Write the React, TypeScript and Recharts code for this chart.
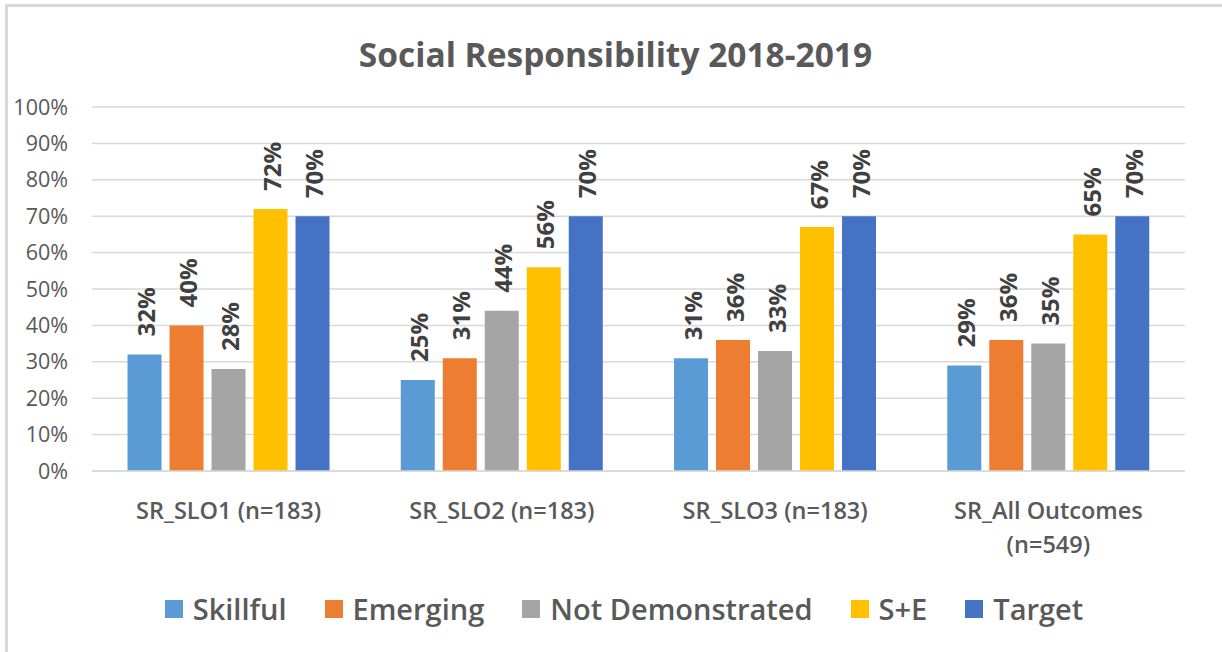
import React from "react";
import { BarChart, Bar, XAxis, YAxis, CartesianGrid, Legend, LabelList } from "recharts";

const categories = ["SR_SLO1 (n=183)", "SR_SLO2 (n=183)", "SR_SLO3 (n=183)", "SR_All Outcomes (n=549)"];
const skillful = [32, 25, 31, 29];
const emerging = [40, 31, 36, 36];
const notDemonstrated = [28, 44, 33, 35];
const sPlusE = [72, 56, 67, 65];
const target = [70, 70, 70, 70];
const yTicks = [0, 10, 20, 30, 40, 50, 60, 70, 80, 90, 100];

const seriesNames = ["Skillful", "Emerging", "Not Demonstrated", "S+E", "Target"];
const seriesKeys = ["skillful", "emerging", "notDemonstrated", "sPlusE", "target"];
const seriesColors = ["#5B9BD5", "#ED7D31", "#A5A5A5", "#FFC000", "#4472C4"];

const data = categories.map((c, i) => ({
  name: c,
  skillful: skillful[i],
  emerging: emerging[i],
  notDemonstrated: notDemonstrated[i],
  sPlusE: sPlusE[i],
  target: target[i],
}));

const FONT = "'Open Sans', sans-serif";

const XTick = (props: any) => {
  const { x, y, payload } = props;
  const label: string = payload.value;
  let lines = [label];
  if (label.length > 16) {
    const idx = label.indexOf(" (n=");
    lines = [label.slice(0, idx), label.slice(idx + 1)];
  }
  return (
    <text x={x} y={y + 48} textAnchor="middle" fill="#595959" fontFamily={FONT} fontSize={23.5} fontWeight={600}>
      {lines.map((l, i) => (
        <tspan key={i} x={x} dy={i === 0 ? 0 : 34}>
          {l}
        </tspan>
      ))}
    </text>
  );
};

const renderLabel = (props: any) => {
  const { x, y, width, value } = props;
  const fs = 24;
  const cx = Number(x) + Number(width) / 2 + 2 + 0.357 * fs;
  const cy = Number(y) - 18;
  return (
    <text
      x={cx}
      y={cy}
      transform={`rotate(-90, ${cx}, ${cy})`}
      textAnchor="start"
      fill="#404040"
      fontFamily={FONT}
      fontWeight="bold"
      fontSize={fs}
    >
      {`${value}%`}
    </text>
  );
};

const renderLegend = (props: any) => {
  const payload = [...(props.payload || [])].sort(
    (a: any, b: any) => seriesNames.indexOf(a.value) - seriesNames.indexOf(b.value)
  );
  return (
    <div
      style={{
        display: "flex",
        justifyContent: "center",
        alignItems: "center",
        fontFamily: FONT,
        fontSize: 29,
        fontWeight: 600,
        lineHeight: "40px",
        height: 40,
        color: "#595959",
        whiteSpace: "nowrap",
      }}
    >
      {payload.map((e: any, i: number) => (
        <div key={i} style={{ display: "flex", alignItems: "center", marginLeft: i ? 38 : 0 }}>
          <span style={{ display: "inline-block", width: 18, height: 18, background: e.color, marginRight: 10 }} />
          <span>{e.value}</span>
        </div>
      ))}
    </div>
  );
};

export default function App() {
  return (
    <div
      style={{
        position: "absolute",
        left: 5,
        top: 4,
        width: 1217,
        height: 648,
        boxSizing: "border-box",
        borderLeft: "3px solid #d9d9d9",
        borderTop: "3px solid #d9d9d9",
        overflow: "hidden",
        background: "#fff",
      }}
    >
      <div
        style={{
          position: "absolute",
          left: 0,
          top: 29.5,
          width: 1215,
          textAlign: "center",
          fontFamily: FONT,
          fontWeight: "bold",
          fontSize: 33.5,
          lineHeight: "34px",
          color: "#595959",
          zIndex: 2,
        }}
      >
        Social Responsibility 2018-2019
      </div>
      <div style={{ position: "absolute", left: 0, top: 0 }}>
        <BarChart
          width={1214}
          height={645}
          data={data}
          margin={{ top: 100, right: 37, left: 0, bottom: 121 }}
          barCategoryGap="13%"
          barGap={8}
        >
          <CartesianGrid vertical={false} stroke="#d9d9d9" strokeWidth={1.5} />
          <XAxis
            dataKey="name"
            height={60}
            tickLine={false}
            tickSize={0}
            tickMargin={0}
            axisLine={{ stroke: "#d9d9d9", strokeWidth: 1.5 }}
            tick={<XTick />}
            interval={0}
          />
          <YAxis
            width={84}
            domain={[0, 100]}
            ticks={yTicks}
            interval={0}
            tickFormatter={(v: number) => `${v}%`}
            axisLine={false}
            tickLine={false}
            tickSize={0}
            tickMargin={24}
            tick={{ fill: "#595959", fontFamily: FONT, fontSize: 21.5 }}
          />
          <Legend
            layout="horizontal"
            verticalAlign="middle"
            align="center"
            content={renderLegend}
            wrapperStyle={{ top: 582, left: 18, width: 1196, height: 40 }}
          />
          {seriesKeys.map((k, i) => (
            <Bar key={k} dataKey={k} name={seriesNames[i]} fill={seriesColors[i]} isAnimationActive={false}>
              <LabelList dataKey={k} content={renderLabel} />
            </Bar>
          ))}
        </BarChart>
      </div>
    </div>
  );
}
